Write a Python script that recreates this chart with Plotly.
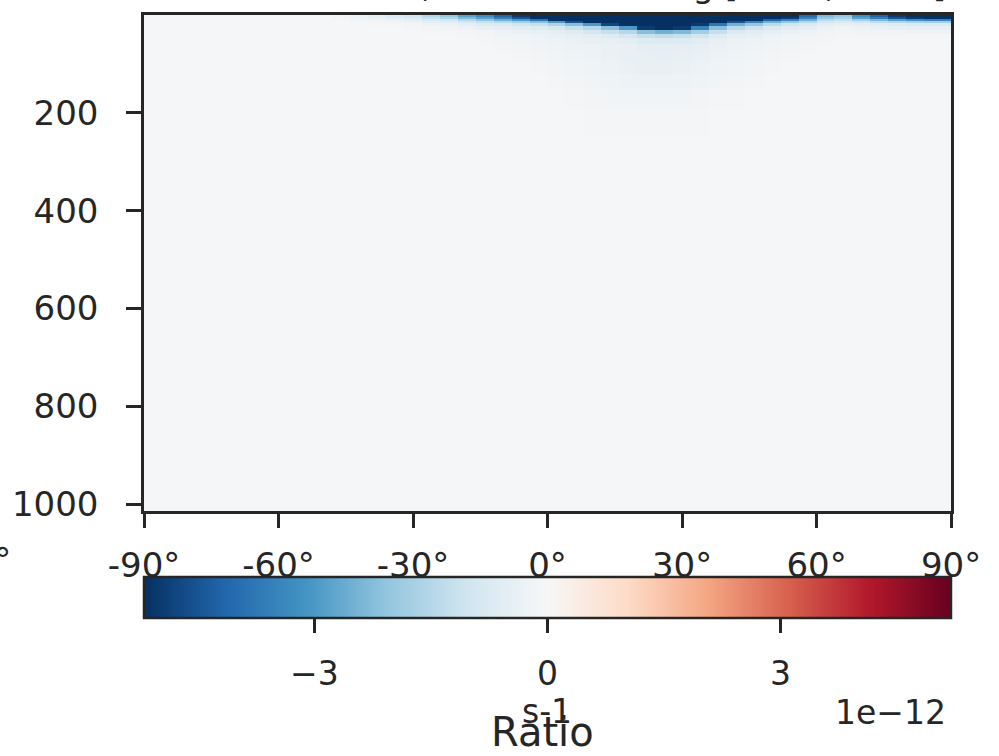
import plotly.graph_objects as go

# ---------------- data ----------------
# latitude cell edges (degrees)
lat_edges = [-90, -88, -84, -80, -76, -72, -68, -64, -60, -56, -52, -48, -44, -40, -36, -32,
             -28, -24, -20, -16, -12, -8, -4, 0, 4, 8, 12, 16, 20, 24, 28, 32, 36, 40, 44,
             48, 52, 56, 60, 64, 68, 72, 76, 80, 84, 88, 90]
# pressure cell edges (hPa)
p_edges = [0, 4, 8, 12, 17, 23, 30, 38, 48, 60, 75, 95, 120, 150, 190, 250, 350, 500, 700, 1014]

# ratio values (units of 1e-12 s-1), one row per pressure band, one value per latitude cell
z_rows = [
    [-0.05, -0.05, -0.05, -0.05, -0.05, -0.05, -0.05, -0.05, -0.05, -0.05, -0.05,
     -0.2, -0.3, -0.5, -0.8, -1.0, -1.5, -2.0, -2.8, -3.3, -4.2, -5.0,
     -5.5, -5.5, -5.5, -5.5, -5.5, -5.5, -5.5, -5.5, -5.5, -5.5, -5.5, -5.5, -5.5, -5.5, -5.5,
     -4.0, -2.3, -2.0, -3.2, -4.2, -5.0, -5.5, -5.5, -5.5],
    [-0.05, -0.05, -0.05, -0.05, -0.05, -0.05, -0.05, -0.05, -0.05, -0.05, -0.05,
     -0.15, -0.25, -0.4, -0.6, -0.8, -1.2, -1.6, -2.3, -2.8, -3.6, -4.5,
     -5.3, -5.5, -5.5, -5.5, -5.5, -5.5, -5.5, -5.5, -5.5, -5.5, -5.5, -5.5, -5.5, -5.5, -5.0,
     -3.5, -2.0, -1.7, -2.8, -3.6, -4.5, -5.0, -5.3, -5.3],
    [-0.05, -0.05, -0.05, -0.05, -0.05, -0.05, -0.05, -0.05, -0.05, -0.05, -0.05,
     -0.1, -0.15, -0.25, -0.35, -0.5, -0.8, -1.0, -1.5, -2.0, -2.5, -3.0,
     -3.8, -5.2, -5.5, -5.5, -5.5, -5.5, -5.5, -5.5, -5.5, -5.5, -5.5, -5.5, -5.5, -4.2, -3.5,
     -2.5, -1.4, -1.2, -1.8, -2.3, -2.8, -3.2, -3.5, -3.5],
    [-0.05, -0.05, -0.05, -0.05, -0.05, -0.05, -0.05, -0.05, -0.05, -0.05, -0.05,
     -0.05, -0.1, -0.15, -0.2, -0.3, -0.5, -0.6, -0.9, -1.2, -1.5, -1.8,
     -2.2, -3.0, -4.5, -5.5, -5.5, -5.5, -5.5, -5.5, -5.5, -5.5, -5.5, -4.5, -3.5, -2.5, -2.0,
     -1.5, -0.9, -0.8, -1.0, -1.3, -1.5, -1.7, -1.8, -1.8],
    [-0.05, -0.05, -0.05, -0.05, -0.05, -0.05, -0.05, -0.05, -0.05, -0.05, -0.05,
     -0.05, -0.05, -0.1, -0.1, -0.15, -0.3, -0.3, -0.5, -0.7, -0.8, -1.0,
     -1.2, -1.6, -2.2, -3.0, -4.8, -5.5, -5.5, -5.5, -5.5, -5.0, -3.8, -2.5, -2.0, -1.4, -1.0,
     -0.8, -0.5, -0.4, -0.5, -0.6, -0.7, -0.8, -0.8, -0.8],
    [-0.05, -0.05, -0.05, -0.05, -0.05, -0.05, -0.05, -0.05, -0.05, -0.05, -0.05,
     -0.05, -0.05, -0.05, -0.05, -0.1, -0.15, -0.2, -0.3, -0.4, -0.5, -0.6,
     -0.7, -0.9, -1.2, -1.5, -2.2, -3.0, -5.0, -5.2, -5.0, -3.5, -2.2, -1.4, -1.1, -0.8, -0.6,
     -0.5, -0.3, -0.25, -0.3, -0.35, -0.4, -0.45, -0.45, -0.45],
    [-0.05, -0.05, -0.05, -0.05, -0.05, -0.05, -0.05, -0.05, -0.05, -0.05, -0.05,
     -0.05, -0.05, -0.05, -0.05, -0.05, -0.1, -0.1, -0.15, -0.2, -0.3, -0.35,
     -0.4, -0.5, -0.7, -0.9, -1.2, -1.5, -2.2, -2.5, -2.3, -1.8, -1.2, -0.8, -0.6, -0.5, -0.35,
     -0.3, -0.2, -0.15, -0.2, -0.2, -0.2, -0.25, -0.25, -0.25],
    [-0.05, -0.05, -0.05, -0.05, -0.05, -0.05, -0.05, -0.05, -0.05, -0.05, -0.05,
     -0.05, -0.05, -0.05, -0.05, -0.05, -0.05, -0.05, -0.1, -0.15, -0.2, -0.25,
     -0.3, -0.35, -0.45, -0.55, -0.7, -0.9, -1.2, -1.3, -1.2, -1.0, -0.7, -0.5, -0.4, -0.3, -0.25,
     -0.2, -0.15, -0.1, -0.1, -0.1, -0.1, -0.1, -0.1, -0.1],
    [-0.05, -0.05, -0.05, -0.05, -0.05, -0.05, -0.05, -0.05, -0.05, -0.05, -0.05,
     -0.05, -0.05, -0.05, -0.05, -0.05, -0.05, -0.05, -0.05, -0.1, -0.15, -0.2,
     -0.25, -0.3, -0.35, -0.4, -0.45, -0.55, -0.7, -0.75, -0.7, -0.6, -0.45, -0.35, -0.3, -0.25, -0.2,
     -0.15, -0.1, -0.05, -0.05, -0.05, -0.05, -0.05, -0.05, -0.05],
    [-0.05, -0.05, -0.05, -0.05, -0.05, -0.05, -0.05, -0.05, -0.05, -0.05, -0.05,
     -0.05, -0.05, -0.05, -0.05, -0.05, -0.05, -0.05, -0.05, -0.05, -0.1, -0.15,
     -0.2, -0.25, -0.3, -0.3, -0.35, -0.4, -0.5, -0.5, -0.5, -0.45, -0.35, -0.3, -0.25, -0.2, -0.15,
     -0.1, -0.05, -0.05, -0.05, -0.05, -0.05, -0.05, -0.05, -0.05],
    [-0.05, -0.05, -0.05, -0.05, -0.05, -0.05, -0.05, -0.05, -0.05, -0.05, -0.05,
     -0.05, -0.05, -0.05, -0.05, -0.05, -0.05, -0.05, -0.05, -0.05, -0.05, -0.1,
     -0.15, -0.2, -0.25, -0.3, -0.35, -0.4, -0.4, -0.45, -0.4, -0.35, -0.3, -0.25, -0.2, -0.15, -0.1,
     -0.05, -0.05, -0.05, -0.05, -0.05, -0.05, -0.05, -0.05, -0.05],
    [-0.05, -0.05, -0.05, -0.05, -0.05, -0.05, -0.05, -0.05, -0.05, -0.05, -0.05,
     -0.05, -0.05, -0.05, -0.05, -0.05, -0.05, -0.05, -0.05, -0.05, -0.05, -0.05,
     -0.1, -0.15, -0.2, -0.25, -0.3, -0.35, -0.4, -0.4, -0.35, -0.3, -0.25, -0.2, -0.15, -0.1, -0.05,
     -0.05, -0.05, -0.05, -0.05, -0.05, -0.05, -0.05, -0.05, -0.05],
    [-0.05, -0.05, -0.05, -0.05, -0.05, -0.05, -0.05, -0.05, -0.05, -0.05, -0.05,
     -0.05, -0.05, -0.05, -0.05, -0.05, -0.05, -0.05, -0.05, -0.05, -0.05, -0.05,
     -0.05, -0.1, -0.15, -0.2, -0.25, -0.3, -0.3, -0.3, -0.3, -0.25, -0.2, -0.15, -0.1, -0.05, -0.05,
     -0.05, -0.05, -0.05, -0.05, -0.05, -0.05, -0.05, -0.05, -0.05],
    [-0.05, -0.05, -0.05, -0.05, -0.05, -0.05, -0.05, -0.05, -0.05, -0.05, -0.05,
     -0.05, -0.05, -0.05, -0.05, -0.05, -0.05, -0.05, -0.05, -0.05, -0.05, -0.05,
     -0.05, -0.05, -0.1, -0.15, -0.2, -0.2, -0.2, -0.2, -0.2, -0.15, -0.1, -0.1, -0.05, -0.05, -0.05,
     -0.05, -0.05, -0.05, -0.05, -0.05, -0.05, -0.05, -0.05, -0.05],
    [-0.05, -0.05, -0.05, -0.05, -0.05, -0.05, -0.05, -0.05, -0.05, -0.05, -0.05,
     -0.05, -0.05, -0.05, -0.05, -0.05, -0.05, -0.05, -0.05, -0.05, -0.05, -0.05,
     -0.05, -0.05, -0.05, -0.1, -0.1, -0.1, -0.1, -0.1, -0.1, -0.1, -0.05, -0.05, -0.05, -0.05, -0.05,
     -0.05, -0.05, -0.05, -0.05, -0.05, -0.05, -0.05, -0.05, -0.05],
    [-0.05, -0.05, -0.05, -0.05, -0.05, -0.05, -0.05, -0.05, -0.05, -0.05, -0.05,
     -0.05, -0.05, -0.05, -0.05, -0.05, -0.05, -0.05, -0.05, -0.05, -0.05, -0.05,
     -0.05, -0.05, -0.05, -0.05, -0.05, -0.05, -0.05, -0.05, -0.05, -0.05, -0.05, -0.05, -0.05, -0.05, -0.05,
     -0.05, -0.05, -0.05, -0.05, -0.05, -0.05, -0.05, -0.05, -0.05],
    [-0.05, -0.05, -0.05, -0.05, -0.05, -0.05, -0.05, -0.05, -0.05, -0.05, -0.05,
     -0.05, -0.05, -0.05, -0.05, -0.05, -0.05, -0.05, -0.05, -0.05, -0.05, -0.05,
     -0.05, -0.05, -0.05, -0.05, -0.05, -0.05, -0.05, -0.05, -0.05, -0.05, -0.05, -0.05, -0.05, -0.05, -0.05,
     -0.05, -0.05, -0.05, -0.05, -0.05, -0.05, -0.05, -0.05, -0.05],
    [-0.05, -0.05, -0.05, -0.05, -0.05, -0.05, -0.05, -0.05, -0.05, -0.05, -0.05,
     -0.05, -0.05, -0.05, -0.05, -0.05, -0.05, -0.05, -0.05, -0.05, -0.05, -0.05,
     -0.05, -0.05, -0.05, -0.05, -0.05, -0.05, -0.05, -0.05, -0.05, -0.05, -0.05, -0.05, -0.05, -0.05, -0.05,
     -0.05, -0.05, -0.05, -0.05, -0.05, -0.05, -0.05, -0.05, -0.05],
    [-0.05, -0.05, -0.05, -0.05, -0.05, -0.05, -0.05, -0.05, -0.05, -0.05, -0.05,
     -0.05, -0.05, -0.05, -0.05, -0.05, -0.05, -0.05, -0.05, -0.05, -0.05, -0.05,
     -0.05, -0.05, -0.05, -0.05, -0.05, -0.05, -0.05, -0.05, -0.05, -0.05, -0.05, -0.05, -0.05, -0.05, -0.05,
     -0.05, -0.05, -0.05, -0.05, -0.05, -0.05, -0.05, -0.05, -0.05],
]

x_tick_vals = [-90, -60, -30, 0, 30, 60, 90]
x_tick_text = ["-90°", "-60°", "-30°", "0°", "30°", "60°", "90°"]
y_tick_vals = [200, 400, 600, 800, 1000]
cbar_tick_vals = [-3, 0, 3]
cbar_tick_text = ["\u22123", "0", "3"]
cmin, cmax = -5.2, 5.2
title_text = "Ratio, zonal mean avg [2000, 2020]"

assert len(z_rows) == len(p_edges) - 1
for r in z_rows:
    assert len(r) == len(lat_edges) - 1, len(r)

# matplotlib RdBu_r
rdbu_r = ["#053061", "#2166ac", "#4393c3", "#92c5de", "#d1e5f0", "#f7f7f7",
          "#fddbc7", "#f4a582", "#d6604d", "#b2182b", "#67001f"]
colorscale = [[i / (len(rdbu_r) - 1), c] for i, c in enumerate(rdbu_r)]

INK = "#262626"
FONT = "DejaVu Sans"

fig = go.Figure()
fig.add_trace(go.Heatmap(
    x=lat_edges, y=p_edges, z=z_rows,
    colorscale=colorscale, zmin=cmin, zmax=cmax, zsmooth=False,
    colorbar=dict(
        orientation="h", x=0.5, xanchor="center", len=1.0, lenmode="fraction",
        y=-0.134, yanchor="top", yref="paper", thickness=41, thicknessmode="pixels",
        xpad=0, ypad=0,
        outlinewidth=2.5, outlinecolor=INK,
        tickmode="array", tickvals=cbar_tick_vals, ticks="outside", ticklen=14,
        tickwidth=2.5, tickcolor=INK, showticklabels=False,
    ),
))

W, H = 999, 756
ml, mr, mt, mb = 140, 48, 12, 245
pw, ph = W - ml - mr, H - mt - mb

annotations = []
# colorbar tick labels
for v, t in zip(cbar_tick_vals, cbar_tick_text):
    annotations.append(dict(
        x=(v - cmin) / (cmax - cmin), xref="paper", y=(511 - 674) / ph, yref="paper",
        text=t, showarrow=False, xanchor="center", yanchor="middle",
        font=dict(family=FONT, size=33, color=INK)))
annotations += [
    dict(x=(890 - ml) / pw, xref="paper", y=(511 - 714) / ph, yref="paper", text="1e\u221212",
         showarrow=False, xanchor="center", yanchor="middle", font=dict(family=FONT, size=33, color=INK)),
    dict(x=(545 - ml) / pw, xref="paper", y=(511 - 713) / ph, yref="paper", text="s-1",
         showarrow=False, xanchor="center", yanchor="middle", font=dict(family=FONT, size=33, color=INK)),
    dict(x=(540 - ml) / pw, xref="paper", y=(511 - 733) / ph, yref="paper", text="Ratio",
         showarrow=False, xanchor="center", yanchor="middle", font=dict(family=FONT, size=40, color=INK)),
    # clipped label from a neighbouring panel at the far left
    dict(x=(8 - ml) / pw, xref="paper", y=(511 - 560) / ph, yref="paper", text="90°",
         showarrow=False, xanchor="right", yanchor="middle", font=dict(family=FONT, size=34, color=INK)),
    # title, mostly cut off at the top of the image
    dict(x=(948 - ml) / pw, xref="paper", y=(511 + 18) / ph, yref="paper", text=title_text,
         showarrow=False, xanchor="right", yanchor="middle", font=dict(family=FONT, size=34, color=INK)),
]

fig.update_layout(
    width=W, height=H,
    margin=dict(l=ml, r=mr, t=mt, b=mb, pad=0),
    paper_bgcolor="white", plot_bgcolor="white",
    font=dict(family=FONT, size=34, color=INK),
    showlegend=False,
    annotations=annotations,
    xaxis=dict(
        range=[-90, 90], tickmode="array", tickvals=x_tick_vals, ticktext=x_tick_text,
        ticks="outside", ticklen=14, tickwidth=2.5, tickcolor=INK,
        showline=True, linewidth=2.5, linecolor=INK, mirror=True,
        showgrid=False, zeroline=False, ticklabelstandoff=8,
        tickfont=dict(family=FONT, size=34, color=INK),
    ),
    yaxis=dict(
        range=[1014, 0], tickmode="array", tickvals=y_tick_vals,
        ticks="outside", ticklen=15, tickwidth=2.5, tickcolor=INK,
        showline=True, linewidth=2.5, linecolor=INK, mirror=True,
        showgrid=False, zeroline=False, ticklabelstandoff=21,
        tickfont=dict(family=FONT, size=34, color=INK),
    ),
)

fig.write_html("out.html", config={"displayModeBar": False},
               post_script="document.body.style.margin='0';document.body.style.overflow='hidden';")
